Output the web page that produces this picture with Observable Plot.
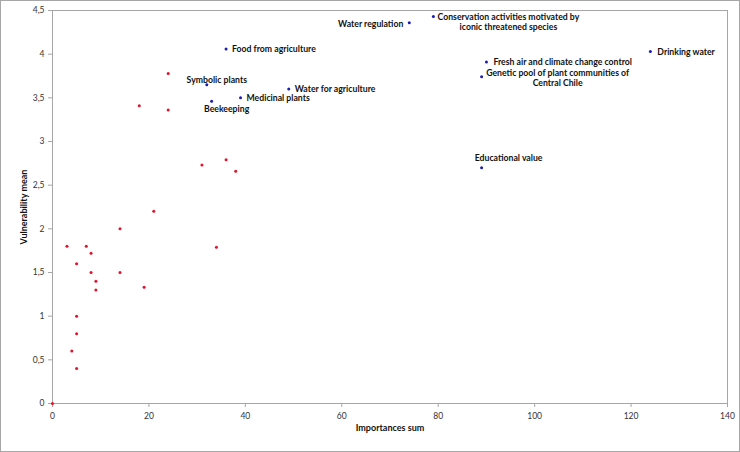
<!DOCTYPE html>
<html>
<head>
<meta charset="utf-8">
<script src="https://cdn.jsdelivr.net/npm/d3@7"></script>
<script src="https://cdn.jsdelivr.net/npm/@observablehq/plot@0.6"></script>
<style>
  html, body { margin: 0; padding: 0; background: #fff; }
  #chart { width: 740px; height: 452px; box-sizing: border-box; border: 1px solid #a6a6a6; overflow: hidden; }
  #chart svg { display: block; }
</style>
</head>
<body>
<div id="chart"></div>
<script>
// Labelled services (blue)
const serviceNames = [
  "Water regulation",
  "Conservation activities motivated by\niconic threatened species",
  "Food from agriculture",
  "Symbolic plants",
  "Beekeeping",
  "Medicinal plants",
  "Water for agriculture",
  "Fresh air and climate change control",
  "Genetic pool of plant communities of\nCentral Chile",
  "Drinking water",
  "Educational value"
];
const serviceImportance = [74, 79, 36, 32, 33, 39, 49, 90, 89, 124, 89];
const serviceVulnerability = [4.36, 4.43, 4.06, 3.65, 3.46, 3.50, 3.60, 3.91, 3.74, 4.03, 2.70];

// Other services (red, unlabelled)
const otherImportance = [24, 18, 24, 31, 36, 38, 21, 14, 3, 7, 8, 5, 8, 14, 9, 9, 19, 34, 5, 5, 4, 5, 0];
const otherVulnerability = [3.78, 3.41, 3.36, 2.73, 2.79, 2.66, 2.20, 2.00, 1.80, 1.80, 1.72, 1.60, 1.50, 1.50, 1.40, 1.30, 1.33, 1.79, 1.00, 0.80, 0.60, 0.40, 0];

// Axis ticks
const xTicks = [0, 20, 40, 60, 80, 100, 120, 140];
const yTicks = [0, 0.5, 1, 1.5, 2, 2.5, 3, 3.5, 4, 4.5];

const services = serviceNames.map((name, i) => ({name, x: serviceImportance[i], y: serviceVulnerability[i]}));
const others = otherImportance.map((x, i) => ({x, y: otherVulnerability[i]}));

const labelFont = {fontFamily: "Lato, 'Open Sans', sans-serif", fontSize: 8.7, fontWeight: "bold", fill: "#111"};
function label(i, opts) {
  return Plot.text([services[i]], {x: "x", y: "y", text: "name", ...labelFont, lineHeight: 1.2, ...opts});
}

const fmt = d => String(d).replace(".", ",");

const plot = Plot.plot({
  width: 738,
  height: 450,
  marginLeft: 51,
  marginRight: 12,
  marginTop: 9,
  marginBottom: 48,
  style: {fontFamily: "Lato, 'Open Sans', sans-serif", fontSize: "8.5px", color: "#333", background: "#fff"},
  x: {domain: [0, 140]},
  y: {domain: [0, 4.5]},
  marks: [
    Plot.frame({stroke: "#a6a6a6"}),
    Plot.axisX({ticks: xTicks, tickFormat: fmt, tickSize: 4, stroke: "#a6a6a6", fill: "#333", tickPadding: 5,
      label: "Importances sum", labelAnchor: "center", labelArrow: "none", labelOffset: 27}),
    Plot.axisY({ticks: yTicks, tickFormat: fmt, tickSize: 4, stroke: "#a6a6a6", fill: "#333", tickPadding: 4,
      label: "Vulnerability mean", labelAnchor: "center", labelArrow: "none", labelOffset: 32}),
    Plot.dot(others, {x: "x", y: "y", r: 1.5, fill: "#e3102b", stroke: null}),
    Plot.dot(services, {x: "x", y: "y", r: 1.5, fill: "#1a1ab8", stroke: null}),
    label(0, {textAnchor: "end", dx: -6, dy: 1}),
    label(1, {textAnchor: "middle", dx: 75, dy: 5}),
    label(2, {textAnchor: "start", dx: 6}),
    label(3, {textAnchor: "middle", dx: 10, dy: -5}),
    label(4, {textAnchor: "middle", dx: 15, dy: 7}),
    label(5, {textAnchor: "start", dx: 6}),
    label(6, {textAnchor: "start", dx: 6}),
    label(7, {textAnchor: "start", dx: 7}),
    label(8, {textAnchor: "middle", dx: 76, dy: 1}),
    label(9, {textAnchor: "start", dx: 7}),
    label(10, {textAnchor: "middle", dx: 27, dy: -10})
  ]
});
// bold axis titles
plot.querySelectorAll("g[aria-label='x-axis label'] text, g[aria-label='y-axis label'] text").forEach(t => {
  t.setAttribute("font-weight", "bold");
  t.setAttribute("fill", "#111");
  t.setAttribute("font-size", "9");
});
document.getElementById("chart").appendChild(plot);
</script>
</body>
</html>
